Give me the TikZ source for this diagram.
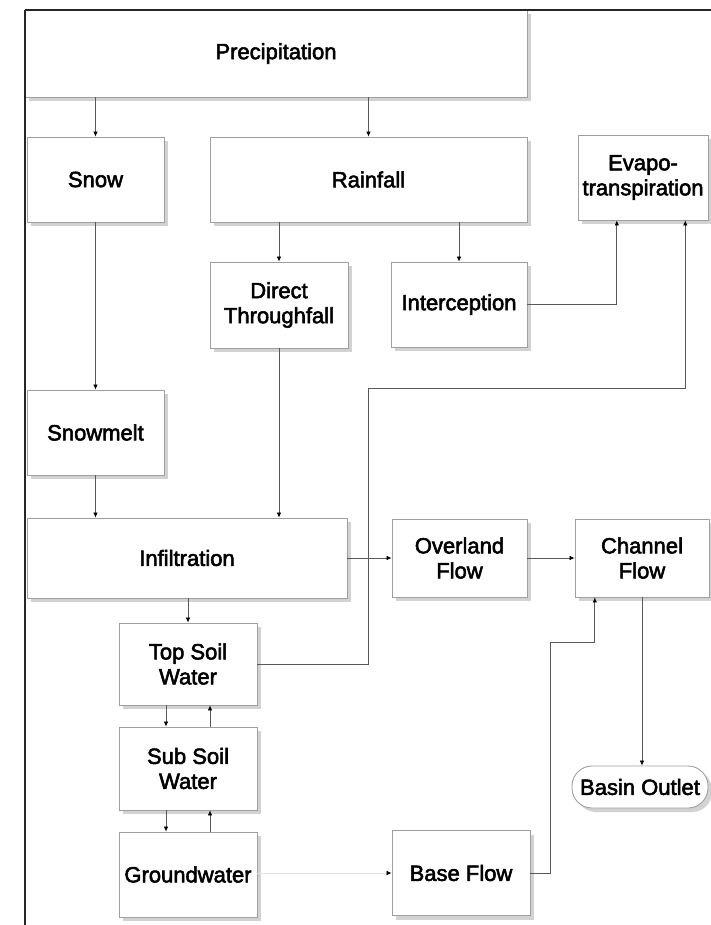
\documentclass[tikz,border=0pt]{standalone}
\usepackage{fontspec}
\newfontfamily\diagfont{Liberation Sans}
\newcommand\heavytext[1]{\special{pdf:code 2 Tr 0.55 w}#1\special{pdf:code 0 Tr 0.3985 w}}
\usetikzlibrary{arrows.meta,calc,shadows}
\begin{document}
\begin{tikzpicture}[x=1pt,y=-1pt,
  box/.style={draw=gray!75, line width=0.9pt, fill=white, inner sep=0pt, align=center,
    font=\diagfont\fontsize{22}{25}\selectfont,
    drop shadow={shadow xshift=4pt, shadow yshift=-4pt, fill=gray!35, opacity=1}},
  conn/.style={draw=gray!70!black, line width=0.7pt, -{Latex[length=5pt,width=4.5pt,black]}},
  frame/.style={draw=black!85, line width=2.6pt}]
\useasboundingbox (0,0) rectangle (711,925);
% boxes
\node[box, minimum width=502pt, minimum height=87pt] (prec) at (276,53.5) {\heavytext{Precipitation}};
\node[box, minimum width=137pt, minimum height=85pt] (snow) at (95.5,179.5) {\heavytext{Snow}};
\node[box, minimum width=317pt, minimum height=85pt] (rain) at (368.5,179.5) {\heavytext{Rainfall}};
\node[box, minimum width=130pt, minimum height=85pt] (evapo) at (643,177.5) {\heavytext{Evapo-}\\\heavytext{transpiration}};
\node[box, minimum width=138pt, minimum height=86pt] (dt) at (279,305) {\heavytext{Direct}\\\heavytext{Throughfall}};
\node[box, minimum width=136pt, minimum height=85pt] (int) at (459,304.5) {\heavytext{Interception}};
\node[box, minimum width=137pt, minimum height=85pt] (melt) at (95.5,432.5) {\heavytext{Snowmelt}};
\node[box, minimum width=320pt, minimum height=80pt] (inf) at (187,558) {\heavytext{Infiltration}};
\node[box, minimum width=135pt, minimum height=78pt] (over) at (459.5,558) {\heavytext{Overland}\\\heavytext{Flow}};
\node[box, minimum width=134pt, minimum height=78pt] (chan) at (642,558) {\heavytext{Channel}\\\heavytext{Flow}};
\node[box, minimum width=138pt, minimum height=82pt] (top) at (188,664) {\heavytext{Top Soil}\\\heavytext{Water}};
\node[box, minimum width=138pt, minimum height=83pt] (sub) at (188,768.5) {\heavytext{Sub Soil}\\\heavytext{Water}};
\node[box, minimum width=138pt, minimum height=85pt] (gw) at (188,874.5) {\heavytext{Groundwater}};
\node[box, minimum width=138pt, minimum height=85pt] (base) at (461,873) {\heavytext{Base Flow}};
\node[box, minimum width=136pt, minimum height=42pt, rounded corners=20pt] (basin) at (640,787) {\heavytext{Basin Outlet}};
% helper coordinates
\coordinate (ev1) at ($(evapo.south west)!0.3!(evapo.south east)$);
\coordinate (ev2) at ($(evapo.south west)!0.823!(evapo.south east)$);
\coordinate (ch1) at ($(chan.south west)!0.15!(chan.south east)$);
\coordinate (j1) at (368,388);
\coordinate (j2) at (550,642);
% connectors
\draw[conn] (prec.south -| snow.north) -- (snow.north);
\draw[conn] (rain.north |- prec.south) -- (rain.north);
\draw[conn] (dt.north |- rain.south) -- (dt.north);
\draw[conn] (int.north |- rain.south) -- (int.north);
\draw[conn] (snow.south) -- (melt.north);
\draw[conn] (melt.south) -- (melt.south |- inf.north);
\draw[conn] (dt.south) -- (dt.south |- inf.north);
\draw[conn] (int.east) -| (ev1);
\draw[conn] (top.east) -| (j1) -| (ev2);
\draw[conn] (inf.east) -- (inf.east -| over.west);
\draw[conn] (over.east) -- (over.east -| chan.west);
\draw[conn] (chan.south) -- (chan.south |- basin.north);
\draw[conn] (base.east) -| (j2) -| (ch1);
\draw[conn] (top.north |- inf.south) -- (top.north);
\draw[conn] ([xshift=-22pt]top.south) -- ([xshift=-22pt]sub.north);
\draw[conn] ([xshift=22pt]sub.north) -- ([xshift=22pt]top.south);
\draw[conn] ([xshift=-22pt]sub.south) -- ([xshift=-22pt]gw.north);
\draw[conn] ([xshift=22pt]gw.north) -- ([xshift=22pt]sub.south);
\draw[conn, draw=gray!20] (gw.east |- base.west) -- (base.west);
% frame
\draw[frame] (25,10) -- (711,10);
\draw[frame] (25,10) -- (25,925);
\end{tikzpicture}
\end{document}
